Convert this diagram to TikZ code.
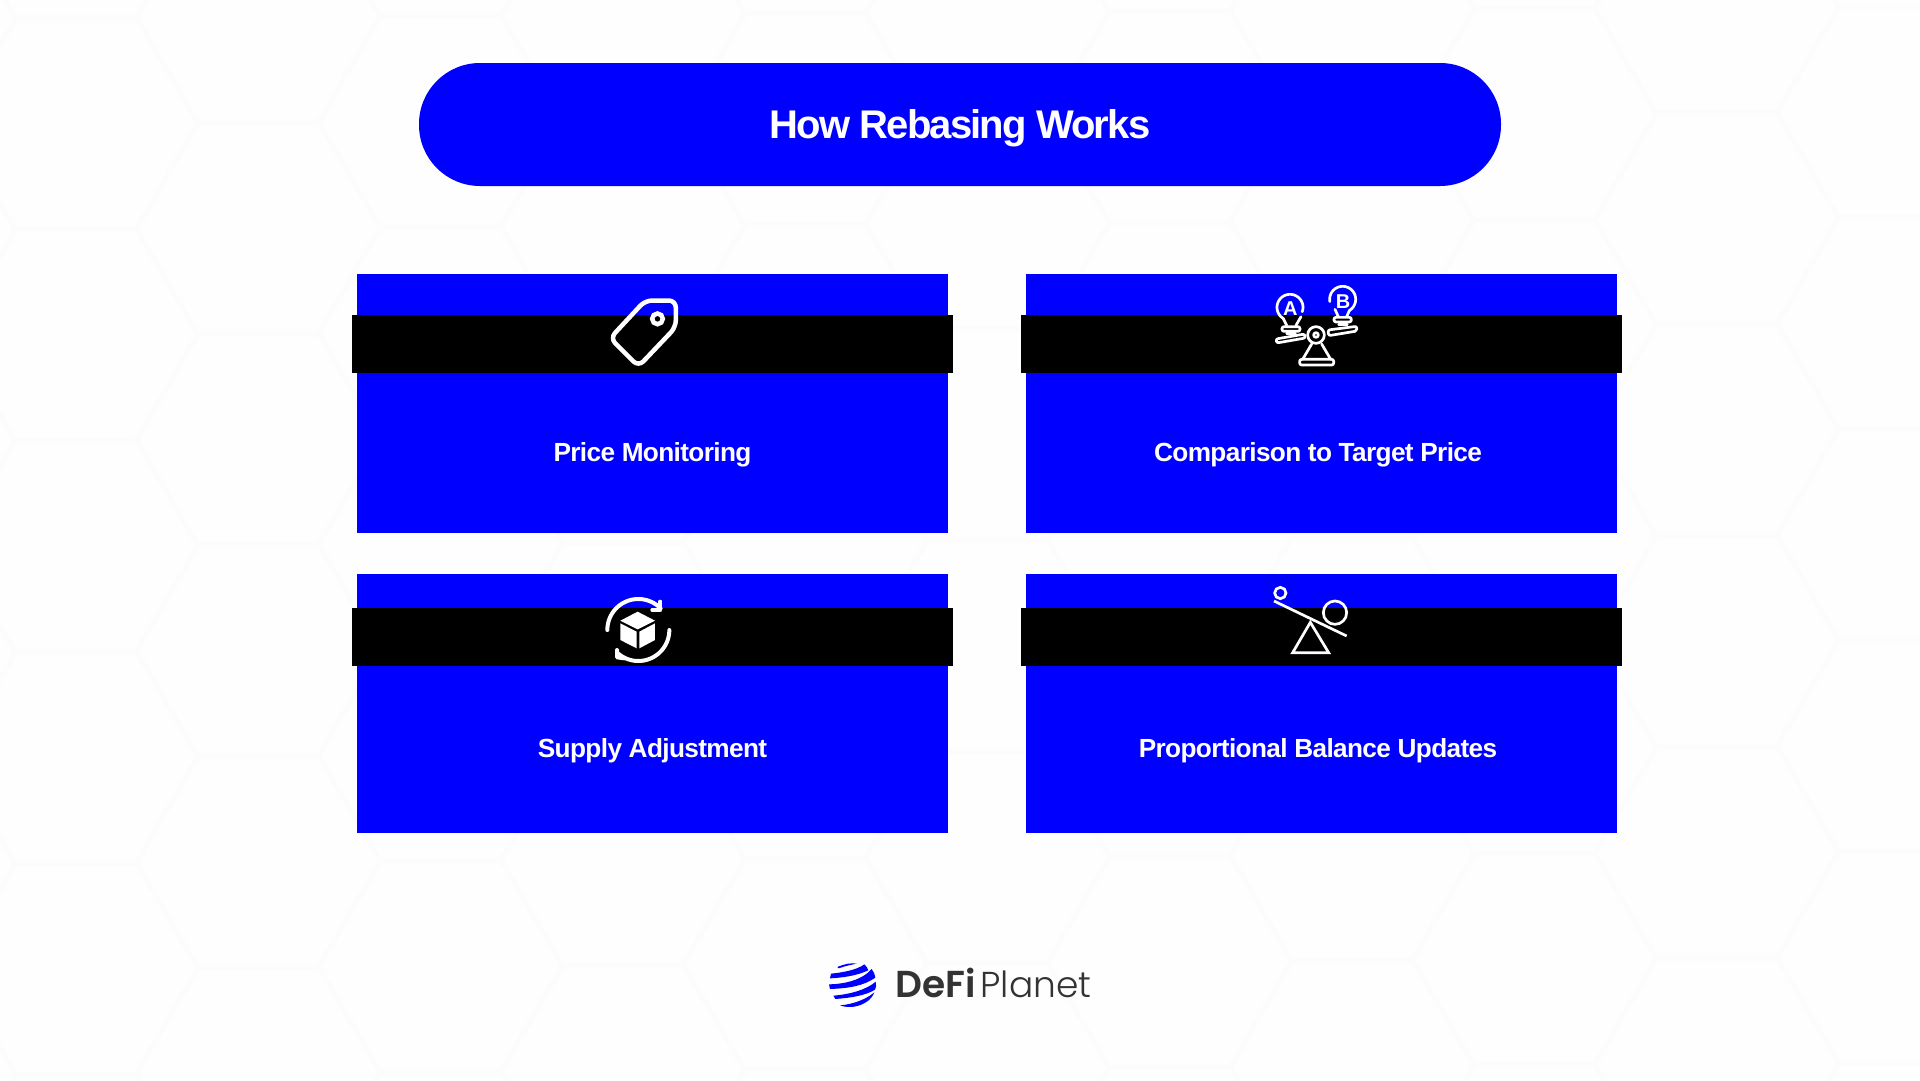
\documentclass[tikz,border=0pt]{standalone}
\usepackage{fontspec}
\setmainfont{Liberation Sans}
\newfontfamily\titlefont{Liberation Sans}[LetterSpace=-4.6]
\newfontfamily\labelfont{Liberation Sans}[LetterSpace=-2.4]
\newfontfamily\logobold{Poppins}[UprightFont=* SemiBold]
\newfontfamily\logolight{Poppins}[UprightFont=* Light]
\definecolor{brandblue}{RGB}{0,0,255}
\definecolor{bgpaper}{RGB}{254,254,254}
\definecolor{hexline}{RGB}{252,252,252}
\definecolor{logoink}{RGB}{51,51,51}
\newcommand{\hexcell}[2]{\draw[hexstroke] (#1-122,#2) -- (#1-61,#2-105) -- (#1+61,#2-105) -- (#1+122,#2) -- (#1+61,#2+105) -- (#1-61,#2+105) -- cycle;}
\newcommand{\arcby}[5]{plot[domain=#4:#5,samples=50,variable=\t] ({#1+#3*cos(\t)},{#2+#3*sin(\t)})}
\tikzset{
  hexstroke/.style={draw=hexline,line width=4pt},
  cardbox/.style={fill=brandblue,minimum width=591pt,minimum height=259pt,inner sep=0pt,outer sep=0pt},
  blackband/.style={fill=black,minimum width=601pt,minimum height=58pt,inner sep=0pt,outer sep=0pt},
  cardlabel/.style={text=white,inner sep=0pt,font=\labelfont\fontsize{26.2}{30}\selectfont\bfseries},
  iconline/.style={draw=white,line join=round,line cap=round},
  globeband/.style={fill=brandblue,draw=none},
}
\begin{document}
\begin{tikzpicture}[x=1pt,y=-1pt]
\useasboundingbox (0,0) rectangle (1920,1080);
\fill[bgpaper] (0,0) rectangle (1920,1080);
\begin{scope}
\clip (0,0) rectangle (1920,1080);
\foreach \c in {-2,...,11}{
  \foreach \r in {-1,...,5}{
    \pgfmathsetmacro{\hx}{76+182.3*\c}
    \pgfmathsetmacro{\hyraw}{123+210*\r+105*mod(\c+20,2)}
    \pgfmathsetmacro{\hy}{\hyraw+0.006*(\hyraw-200)-0.0065*(\hx-250)}
    \hexcell{\hx}{\hy}
  }
}
\end{scope}

\node[fill=brandblue,minimum width=1082pt,minimum height=123pt,rounded corners=61pt,inner sep=0pt,outer sep=0pt] (titlepill) at (960,124.5) {};
\node[text=white,inner sep=0pt,font=\titlefont\fontsize{40}{46}\selectfont\bfseries] (titletext) at (960,128) {How Rebasing Works};

\node[cardbox] (card1) at (652.5,403.5) {};
\node[cardbox] (card2) at (1321.5,403.5) {};
\node[cardbox] (card3) at (652.5,703) {};
\node[cardbox] (card4) at (1321.5,703) {};
\node[blackband] (band1) at (652.5,344) {};
\node[blackband] (band2) at (1321.5,344) {};
\node[blackband] (band3) at (652.5,637) {};
\node[blackband] (band4) at (1321.5,637) {};

\node[cardlabel] (label1) at (652.5,454.5) {Price Monitoring};
\node[cardlabel] (label2) at (1318,454.5) {Comparison to Target Price};
\node[cardlabel] (label3) at (652.5,750.5) {Supply Adjustment};
\node[cardlabel] (label4) at (1318,750.5) {Proportional Balance Updates};

% tag icon
\begin{scope}[shift={(588.5,286.5)},x=0.3333pt,y=-0.3333pt]
\draw[iconline,line width=4.5pt,rounded corners=7pt] (262,42) -- (170,42) -- (65,155) -- (150,240) -- (262,122) -- cycle;
\draw[draw=white,line width=4.5pt] (207,97) circle[radius=16];
\end{scope}

% balance icon
\begin{scope}[shift={(1240,270)},x=0.3333pt,y=-0.3333pt]
\draw[iconline,line width=2.7pt] \arcby{150}{112}{39}{120}{380};
\draw[iconline,line width=2.7pt] (130,146) -- (140,166);
\draw[iconline,line width=2.7pt] (183,140) -- (168,166);
\draw[iconline,line width=2.7pt,rounded corners=2pt] (126,170) rectangle (180,184);
\draw[iconline,line width=2.7pt] (140,190) -- (166,190);
\draw[iconline,line width=2.7pt] \arcby{308}{88}{39}{60}{-190};
\draw[iconline,line width=2.7pt] (285,118) -- (295,140);
\draw[iconline,line width=2.7pt] (328,122) -- (320,140);
\draw[iconline,line width=2.7pt,rounded corners=2pt] (282,142) rectangle (334,156);
\draw[iconline,line width=2.7pt] (296,164) -- (322,164);
\draw[iconline,line width=2.7pt,rounded corners=2pt] (108,207) -- (194,192) -- (196,204) -- (110,219) -- cycle;
\draw[iconline,line width=2.7pt,rounded corners=2pt] (264,180) -- (350,169) -- (351,183) -- (266,197) -- cycle;
\draw[iconline,line width=2.7pt] (228,195) circle[radius=25];
\draw[iconline,line width=2.7pt] (228,195) circle[radius=7];
\draw[iconline,line width=2.7pt] (215,222) -- (188,268);
\draw[iconline,line width=2.7pt] (245,222) -- (272,268);
\draw[iconline,line width=2.7pt,rounded corners=2pt] (179,268) rectangle (281,285);
\node[text=white,inner sep=0pt,font=\fontsize{20}{22}\selectfont\bfseries] (letterA) at (151,116) {A};
\node[text=white,inner sep=0pt,font=\fontsize{20}{22}\selectfont\bfseries] (letterB) at (309,95) {B};
\end{scope}

% cube icon
\begin{scope}[shift={(581,580)},x=0.3333pt,y=-0.3333pt]
\draw[iconline,line width=4pt] \arcby{172}{150}{93}{180}{316};
\draw[iconline,line width=4pt] (238,65) -- (238,90) -- (214,90);
\draw[iconline,line width=4pt] \arcby{172}{150}{93}{0}{130};
\draw[iconline,line width=4pt] (108,210) -- (108,232) -- (130,235);
\fill[white] (170,95) -- (222,122) -- (170,148) -- (118,122) -- cycle;
\fill[white] (118,130) -- (167,155) -- (167,205) -- (118,180) -- cycle;
\fill[white] (175,155) -- (222,130) -- (222,180) -- (175,205) -- cycle;
\end{scope}

% seesaw icon
\begin{scope}[shift={(1250,575)},x=0.3333pt,y=-0.3333pt]
\draw[draw=white,line width=2.7pt] (91,54) circle[radius=17];
\draw[draw=white,line width=2.7pt] (255,113) circle[radius=35];
\draw[draw=white,line width=2.7pt] (72,78) -- (290,183);
\draw[draw=white,line width=2.7pt,line join=miter] (181,142) -- (128,233) -- (236,233) -- cycle;
\end{scope}

% globe of the logo
\begin{scope}[shift={(820,955)},x=0.3333pt,y=-0.3333pt]
\fill[globeband] (52,36) .. controls (75,26) and (95,23) .. (110,26) .. controls (95,29) and (75,33) .. (56,40) -- cycle;
\fill[globeband] (33,56) .. controls (70,52) and (110,45) .. (133,28) .. controls (140,34) and (143,40) .. (145,46) .. controls (110,62) and (70,68) .. (30,70) -- cycle;
\fill[globeband] (27,88) .. controls (80,87) and (130,72) .. (155,42) .. controls (162,50) and (165,60) .. (166,68) .. controls (130,93) and (85,100) .. (30,102) -- cycle;
\fill[globeband] (40,122) .. controls (90,118) and (140,104) .. (167,80) .. controls (170,90) and (168,98) .. (165,104) .. controls (135,122) and (95,128) .. (46,132) -- cycle;
\fill[globeband] (60,151) .. controls (100,148) and (140,132) .. (163,112) .. controls (155,135) and (130,150) .. (103,155) .. controls (88,157) and (72,156) .. (60,151) -- cycle;
\end{scope}
% wordmark of the logo
\begin{scope}[shift={(810,950)},x=0.3333pt,y=-0.3333pt]
\node[anchor=base west,inner sep=0pt,text=logoink,font=\logobold\fontsize{37.5}{40}\selectfont] (logoDeFi) at (256,142) {DeFi};
\node[anchor=base east,inner sep=0pt,text=logoink,font=\logolight\fontsize{36}{40}\selectfont] (logoPlanet) at (845,142) {Planet};
\end{scope}
\end{tikzpicture}
\end{document}
